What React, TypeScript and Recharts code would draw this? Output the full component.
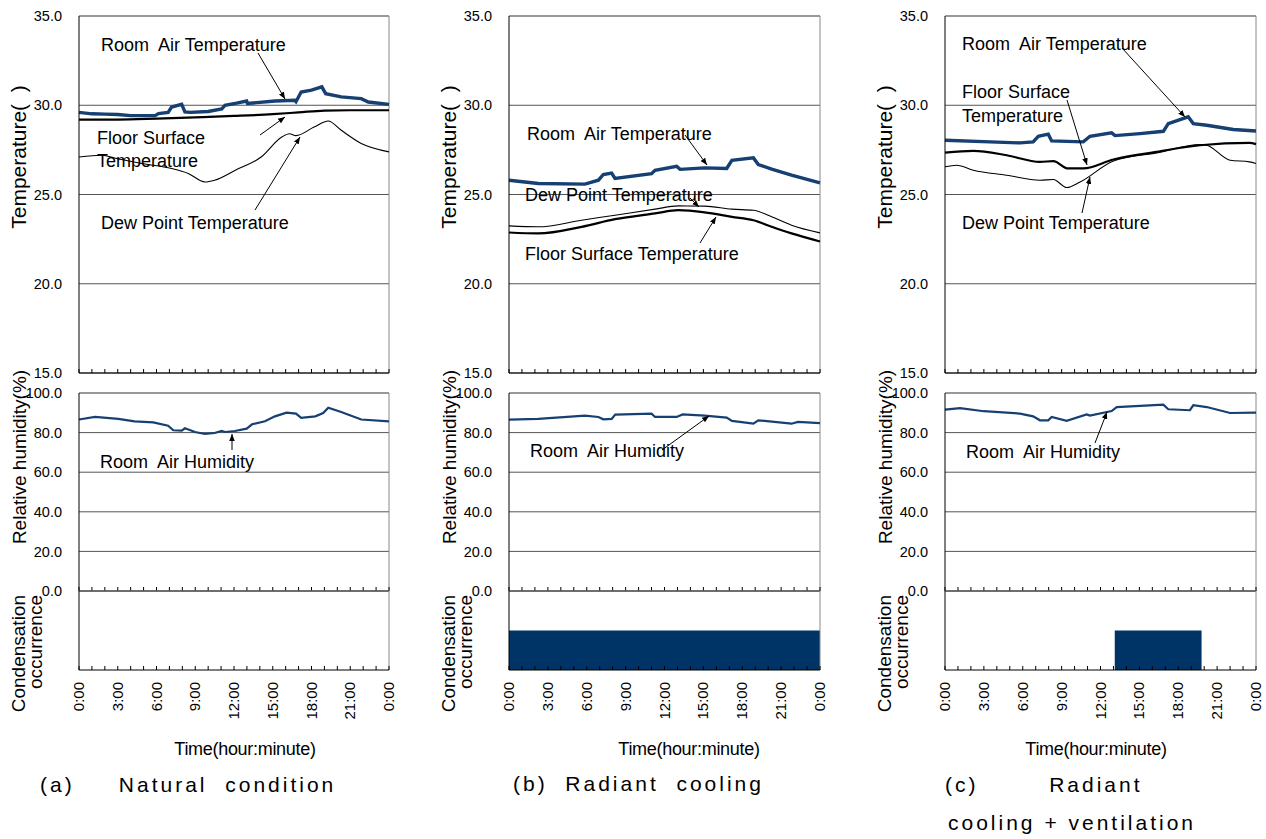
import React from 'react';
import { ComposedChart, Line, Area, XAxis, YAxis, CartesianGrid, ReferenceLine } from 'recharts';

const FONT = '"Liberation Sans", Arial, Helvetica, sans-serif';
const NAVY = '#163f72';
const BAR = '#003366';

// time axis (hours) and labels
const hourTicks = [0, 1, 2, 3, 4, 5, 6, 7, 8, 9, 10, 11, 12, 13, 14, 15, 16, 17, 18, 19, 20, 21, 22, 23, 24];
const timeLabels = ['0:00', '3:00', '6:00', '9:00', '12:00', '15:00', '18:00', '21:00', '0:00'];
const tempTicks = [15, 20, 25, 30, 35];
const rhTicks = [0, 20, 40, 60, 80, 100];

// (a) natural condition  [hour, value]
const aRoomT = [[0, 29.6], [1, 29.52], [2, 29.5], [3, 29.48], [4, 29.42], [5.9, 29.42], [6.15, 29.53], [6.9, 29.6], [7.17, 29.9], [7.95, 30.05], [8.2, 29.63], [8.6, 29.6], [10, 29.65], [11.05, 29.8], [11.3, 30.0], [12.2, 30.12], [12.98, 30.24], [13.05, 30.1], [15.17, 30.24], [16.7, 30.28], [16.8, 30.2], [17.2, 30.74], [18, 30.85], [18.8, 31.03], [19.1, 30.65], [20.3, 30.47], [21.85, 30.37], [22.4, 30.18], [24, 30.05]];
const aFloorT = [[0, 29.2], [3, 29.2], [6, 29.25], [9, 29.32], [12, 29.4], [15, 29.5], [17, 29.6], [19, 29.7], [21, 29.72], [24, 29.72]];
const aDewT = [[0, 27.1], [1.75, 27.2], [3, 27.0], [4.85, 26.74], [7.17, 26.46], [8.46, 26.18], [9.75, 25.7], [10.5, 25.8], [12.1, 26.36], [14.1, 27.1], [15.7, 28.22], [16.3, 28.4], [16.8, 28.3], [18.2, 28.78], [19.3, 29.12], [20.3, 28.6], [21.85, 27.86], [24, 27.39]];
const aRH = [[0, 86.6], [1.24, 87.9], [3.04, 86.9], [4.3, 85.7], [5.75, 85.2], [6.9, 83.5], [7.3, 81.2], [7.95, 81.0], [8.2, 82.2], [8.98, 80.3], [9.75, 79.3], [10.5, 79.8], [11.05, 80.8], [11.3, 80.3], [12.07, 80.8], [12.98, 82.0], [13.4, 84.2], [14.4, 85.7], [15.17, 88.2], [16.07, 90.1], [16.8, 89.6], [17.2, 87.4], [18.3, 88.2], [18.9, 89.9], [19.3, 92.6], [20.3, 90.4], [21.85, 86.6], [24, 85.7]];
const aCond = [[0, 0], [24, 0]];

// (b) radiant cooling
const bRoomT = [[0, 25.8], [2.26, 25.62], [5.86, 25.58], [6.9, 25.8], [7.28, 26.12], [7.92, 26.2], [8.18, 25.9], [11.0, 26.17], [11.27, 26.36], [12.94, 26.58], [13.2, 26.41], [15.1, 26.49], [16.8, 26.46], [17.2, 26.92], [18.86, 27.05], [19.24, 26.68], [20.27, 26.42], [21.8, 26.08], [24, 25.65]];
const bDewT = [[0, 23.24], [2.26, 23.19], [5.6, 23.56], [8.18, 23.84], [11.27, 24.18], [13.07, 24.36], [15.1, 24.35], [17.2, 24.18], [18.86, 24.12], [20.27, 23.75], [21.8, 23.28], [24, 22.85]];
const bFloorT = [[0, 22.87], [2.26, 22.82], [5.6, 23.19], [8.18, 23.62], [11.27, 23.94], [13.07, 24.12], [15.1, 24.0], [17.2, 23.75], [18.86, 23.56], [20.27, 23.19], [21.8, 22.82], [24, 22.37]];
const bRH = [[0, 86.6], [2.26, 86.9], [5.86, 88.6], [6.9, 87.9], [7.28, 86.7], [7.92, 86.9], [8.2, 89.1], [11.0, 89.6], [11.27, 87.9], [12.94, 87.9], [13.4, 89.2], [15.1, 88.6], [16.8, 87.6], [17.2, 85.9], [18.86, 84.5], [19.24, 86.2], [21.8, 84.5], [22.3, 85.4], [24, 84.8]];
const bCond = [[0, 1], [24, 1]];

// (c) radiant cooling + ventilation
const cRoomT = [[0, 28.04], [3.47, 27.95], [5.79, 27.89], [6.8, 27.95], [7.2, 28.26], [7.97, 28.38], [8.23, 28.0], [10.67, 27.95], [11.19, 28.26], [12.86, 28.45], [13.12, 28.3], [15.05, 28.41], [16.85, 28.54], [17.23, 28.97], [18.77, 29.35], [19.16, 28.97], [20.2, 28.88], [22.25, 28.64], [24, 28.56]];
const cFloorT = [[0, 27.35], [2.19, 27.44], [4.76, 27.2], [7.33, 26.83], [8.36, 26.87], [9.5, 26.46], [10.67, 26.46], [13.0, 26.96], [16.34, 27.39], [19.68, 27.76], [23.5, 27.89], [24, 27.82]];
const cDewT = [[0, 26.55], [0.9, 26.64], [2.19, 26.36], [4.76, 26.08], [7.33, 25.8], [8.36, 25.84], [9.39, 25.39], [10.42, 25.7], [13.0, 26.88], [16.34, 27.33], [19.68, 27.8], [20.2, 27.76], [22.0, 26.92], [23.5, 26.83], [24, 26.74]];
const cRH = [[0, 91.6], [1.16, 92.4], [3.0, 90.8], [5.79, 89.6], [6.8, 88.2], [7.33, 86.2], [7.97, 86.2], [8.23, 87.9], [9.39, 85.9], [10.93, 89.2], [11.19, 88.6], [12.86, 90.9], [13.25, 92.9], [16.85, 94.1], [17.23, 91.8], [18.9, 91.3], [19.16, 93.8], [20.2, 92.9], [22.0, 89.9], [24, 90.1]];
const cCond = [[0, 0], [13.1, 1], [19.8, 0], [24, 0]];

const rows = (pts: number[][]) => pts.map(([t, v]) => ({ t, v }));

const Y_W = 70;
const M_TOP = 10;
const M_RIGHT = 10;

function HourTick(props: any) {
  const { x, y, payload, showLabel } = props;
  const h = payload.value;
  return (
    <g>
      <line x1={x} x2={x} y1={y} y2={y - 4} stroke="#000" strokeWidth={1} />
      {showLabel && h % 3 === 0 && (
        <text
          transform={`translate(${x + 5},${y + 12}) rotate(-90)`}
          textAnchor="end"
          fontSize={15}
          fontFamily={FONT}
          fill="#000"
        >
          {timeLabels[h / 3]}
        </text>
      )}
    </g>
  );
}

const yTick = { fill: '#000', fontSize: 14.5, fontFamily: FONT };

function SubChart({ left, top, plotW, plotH, xh, labels, children, yDomain, yTicksList, grid }: any) {
  return (
    <div style={{ position: 'absolute', left: left - Y_W, top: top - M_TOP }}>
      <ComposedChart
        width={Y_W + plotW + M_RIGHT}
        height={M_TOP + plotH + xh}
        margin={{ top: M_TOP, right: M_RIGHT, bottom: 0, left: 0 }}
      >
        {grid && <CartesianGrid vertical={false} stroke="#555" />}
        <XAxis
          type="number"
          dataKey="t"
          domain={[0, 24]}
          ticks={hourTicks}
          interval={0}
          height={xh}
          tickSize={0}
          tickMargin={0}
          tickLine={false}
          axisLine={{ stroke: '#000' }}
          tick={(p: any) => <HourTick {...p} showLabel={labels} />}
        />
        <YAxis
          type="number"
          domain={yDomain}
          ticks={yTicksList}
          width={Y_W}
          tickSize={0}
          tickMargin={17}
          tickLine={false}
          axisLine={{ stroke: '#000' }}
          tick={yTicksList ? yTick : false}
          tickFormatter={(v: number) => v.toFixed(1)}
        />
        <ReferenceLine x={24} stroke="#888" />
        <ReferenceLine y={yDomain[1]} stroke="#888" />
        {children}
      </ComposedChart>
    </div>
  );
}

function Panel({ left, plotW, room, floor, dew, rh, cond }: any) {
  return (
    <>
      <SubChart left={left} top={16} plotW={plotW} plotH={357} xh={14} yDomain={[15, 35]} yTicksList={tempTicks} grid>
        <Line data={rows(dew)} dataKey="v" type="monotone" stroke="#000" strokeWidth={1.1} dot={false} isAnimationActive={false} />
        <Line data={rows(floor)} dataKey="v" type="monotone" stroke="#000" strokeWidth={2.2} dot={false} isAnimationActive={false} />
        <Line data={rows(room)} dataKey="v" type="linear" stroke={NAVY} strokeWidth={3.4} dot={false} isAnimationActive={false} />
      </SubChart>
      <SubChart left={left} top={393} plotW={plotW} plotH={198} xh={14} yDomain={[0, 100]} yTicksList={rhTicks} grid>
        <Line data={rows(rh)} dataKey="v" type="linear" stroke={NAVY} strokeWidth={2.2} dot={false} isAnimationActive={false} />
      </SubChart>
      <SubChart left={left} top={591} plotW={plotW} plotH={79} xh={90} labels yDomain={[0, 2]} yTicksList={null}>
        <Area data={rows(cond)} dataKey="v" type="stepAfter" stroke="none" fill={BAR} fillOpacity={1} isAnimationActive={false} />
      </SubChart>
    </>
  );
}

const annoText = { fontSize: 18, fontFamily: FONT, fill: '#000' };
const axisTitle = { fontSize: 19, fontFamily: FONT, fill: '#000' };

function Arrow({ x1, y1, x2, y2 }: any) {
  return <line x1={x1} y1={y1} x2={x2} y2={y2} stroke="#000" strokeWidth={1} markerEnd="url(#ah)" />;
}

function AxisTitles({ L }: any) {
  return (
    <>
      <text transform={`translate(${L - 61},157) rotate(-90)`} textAnchor="middle" dominantBaseline="central" {...axisTitle} fontSize={21} style={{ whiteSpace: 'pre' }}>
        {'Temperature(  )'}
      </text>
      <text transform={`translate(${L - 60},457) rotate(-90)`} textAnchor="middle" dominantBaseline="central" {...axisTitle}>
        Relative humidity(%)
      </text>
      <text transform={`translate(${L - 61},595) rotate(-90)`} textAnchor="end" dominantBaseline="central" {...axisTitle}>
        Condensation
      </text>
      <text transform={`translate(${L - 44},595) rotate(-90)`} textAnchor="end" dominantBaseline="central" {...axisTitle}>
        occurrence
      </text>
    </>
  );
}

function Overlay() {
  const t = (x: number, y: number, s: string) => (
    <text x={x} y={y} dominantBaseline="central" {...annoText} style={{ whiteSpace: 'pre' }}>
      {s}
    </text>
  );
  return (
    <svg width={1266} height={839} style={{ position: 'absolute', left: 0, top: 0, pointerEvents: 'none' }}>
      <defs>
        <marker id="ah" viewBox="0 0 10 10" refX="10" refY="5" markerWidth="7" markerHeight="7" orient="auto">
          <path d="M0,1 L10,5 L0,9 z" fill="#000" />
        </marker>
      </defs>
      <AxisTitles L={79} />
      <AxisTitles L={509} />
      <AxisTitles L={945} />

      {/* (a) */}
      {t(101, 45, 'Room  Air Temperature')}
      {t(97, 138, 'Floor Surface')}
      {t(97, 161, 'Temperature')}
      {t(101, 223, 'Dew Point Temperature')}
      {t(100, 462, 'Room  Air Humidity')}
      <Arrow x1={258} y1={53} x2={285} y2={99} />
      <Arrow x1={260} y1={135} x2={285} y2={117} />
      <Arrow x1={255} y1={210} x2={300} y2={137} />
      <Arrow x1={232} y1={450} x2={232} y2={434} />

      {/* (b) */}
      {t(527, 134, 'Room  Air Temperature')}
      {t(525, 195, 'Dew Point Temperature')}
      {t(525, 254, 'Floor Surface Temperature')}
      {t(530, 451, 'Room  Air Humidity')}
      <Arrow x1={685} y1={135} x2={707} y2={165} />
      <Arrow x1={690} y1={198} x2={699} y2={207} />
      <Arrow x1={700} y1={243} x2={716} y2={217} />
      <Arrow x1={662} y1={450} x2={709} y2={416} />

      {/* (c) */}
      {t(962, 44, 'Room  Air Temperature')}
      {t(962, 92, 'Floor Surface')}
      {t(962, 116, 'Temperature')}
      {t(962, 223, 'Dew Point Temperature')}
      {t(966, 452, 'Room  Air Humidity')}
      <Arrow x1={1122} y1={48} x2={1185} y2={117} />
      <Arrow x1={1067} y1={100} x2={1087} y2={165} />
      <Arrow x1={1082} y1={213} x2={1090} y2={177} />
      <Arrow x1={1095} y1={443} x2={1107} y2={412} />

      {/* x titles */}
      <text x={245} y={749} textAnchor="middle" dominantBaseline="central" fontSize={18} fontFamily={FONT} letterSpacing={-0.3}>Time(hour:minute)</text>
      <text x={689} y={749} textAnchor="middle" dominantBaseline="central" fontSize={18} fontFamily={FONT} letterSpacing={-0.3}>Time(hour:minute)</text>
      <text x={1096} y={749} textAnchor="middle" dominantBaseline="central" fontSize={18} fontFamily={FONT} letterSpacing={-0.3}>Time(hour:minute)</text>
    </svg>
  );
}

const capStyle: React.CSSProperties = {
  position: 'absolute',
  fontFamily: FONT,
  fontSize: 21,
  letterSpacing: 3,
  whiteSpace: 'pre',
  lineHeight: '24px',
  color: '#000',
};

export default function App() {
  return (
    <div style={{ position: 'absolute', left: 0, top: 0, width: 1266, height: 839, background: '#fff', overflow: 'hidden' }}>
      <Panel left={79} plotW={310} room={aRoomT} floor={aFloorT} dew={aDewT} rh={aRH} cond={aCond} />
      <Panel left={509} plotW={311} room={bRoomT} floor={bFloorT} dew={bDewT} rh={bRH} cond={bCond} />
      <Panel left={945} plotW={311} room={cRoomT} floor={cFloorT} dew={cDewT} rh={cRH} cond={cCond} />
      <Overlay />
      <div style={{ ...capStyle, left: 40, top: 773 }}>{'(a)     Natural  condition'}</div>
      <div style={{ ...capStyle, left: 513, top: 772 }}>{'(b)  Radiant  cooling'}</div>
      <div style={{ ...capStyle, left: 945, top: 773 }}>{'(c)        Radiant'}</div>
      <div style={{ ...capStyle, left: 948, top: 811 }}>{'cooling + ventilation'}</div>
    </div>
  );
}
